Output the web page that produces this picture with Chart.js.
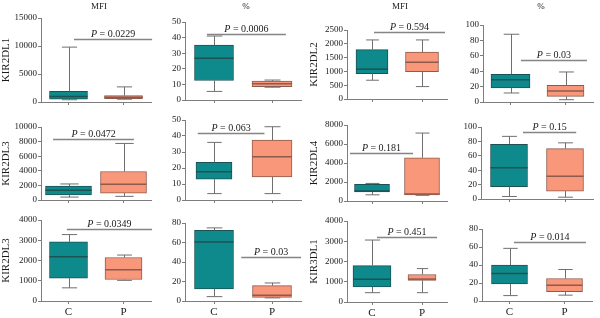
<!DOCTYPE html>
<html>
<head>
<meta charset="utf-8">
<script src="https://cdn.jsdelivr.net/npm/chart.js@4.4.1/dist/chart.umd.min.js"></script>
<style>
html, body { margin:0; padding:0; background:#fff; overflow:hidden; }
body { width:600px; height:318px; position:relative; }
canvas { position:absolute; }
</style>
</head>
<body>
<script>
// x categories
var groups = ['C', 'P'];

// panels go row by row, left to right
var yLabels = ['KIR2DL1', '', 'KIR2DL2', '', 'KIR2DL3', '', 'KIR2DL4', '', 'KIR2DL3', '', 'KIR3DL1', ''];
var colTitles = ['MFI', '%', 'MFI', '%'];
var yMax  = [15000, 50, 2500, 100, 10000, 50, 8000, 100, 4000, 80, 4000, 80];
var yStep = [5000, 10, 500, 20, 2000, 10, 2000, 20, 1000, 20, 1000, 20];

// box stats for group C
var cMin = [400, 5.5, 680, 11.7, 400, 4, 650, 3.5, 650, 4.5, 460, 6];
var cQ1  = [500, 12.5, 920, 18.3, 700, 13, 950, 17, 1130, 12.5, 740, 19];
var cMed = [1000, 26.8, 1080, 29, 1350, 17.7, 1050, 43.5, 2180, 60.5, 1120, 30.5];
var cQ3  = [1900, 35.2, 1790, 36, 1900, 23.5, 1750, 76, 2920, 72.5, 1800, 40];
var cMax = [9800, 41, 2140, 88, 2200, 36, 1850, 87, 3280, 75, 3060, 58.5];

// box stats for group P
var pMin = [500, 8.2, 450, 3, 500, 4, 600, 2.5, 1020, 3.2, 460, 6.5];
var pQ1  = [580, 8.6, 990, 7.4, 950, 14.5, 650, 11, 1060, 3.8, 1070, 10.5];
var pMed = [850, 10.4, 1330, 14.3, 2150, 27, 750, 31.5, 1540, 6, 1130, 17.5];
var pQ3  = [1150, 12.2, 1700, 21.7, 3900, 37.5, 4550, 70, 2150, 15.8, 1360, 25];
var pMax = [2700, 12.8, 2140, 39, 7750, 45.8, 7150, 78, 2270, 18.5, 1650, 35];

// significance bars: p value, height (y units), span (category units)
var pValues  = ['0.0229', '0.0006', '0.594', '0.03', '0.0472', '0.063', '0.181', '0.15', '0.0349', '0.03', '0.451', '0.014'];
var pLineY    = [11200, 42.5, 2420, 55, 8300, 42, 5050, 93, 3550, 45.5, 3220, 65.5];
var pLineFrom = [0.1, -0.12, 0.04, 0.19, -0.28, -0.28, -0.44, 0.25, -0.03, 0.47, 0.1, 0.08];
var pLineTo   = [1.52, 1.24, 1.46, 1.39, 1.19, 0.87, 0.82, 1.2, 1.52, 1.5, 1.3, 1.39];

// layout: plot area of each panel [left, top, right, bottom] in page px
var areas = [
  [41, 18, 151, 102], [185, 22, 301, 100], [347, 30, 447, 99], [483, 25, 593, 102],
  [41, 127, 151, 200], [185, 120, 301, 200], [347, 125, 447, 201], [481, 127, 593, 199],
  [41, 220, 151, 301], [185, 223, 301, 301], [347, 221, 447, 302], [482, 229, 592, 301]
];
var boxW = [[38, 38], [39, 40], [32, 33], [39, 37], [46, 46], [36, 40],
            [35, 35], [37, 37], [38, 37], [39, 39], [38, 28], [36, 36]];
var colX = [0, 150, 300, 450], colW = [160, 160, 160, 150];
var rowY = [0, 105, 205], rowH = [110, 105, 113];
var titlePad = [0, 0, 7.4, 0];

var teal = '#0f8a8c', tealLine = '#1d5254';
var salmon = '#f9977a', salmonLine = '#8e5a4c';
var axisColor = '#7d7d7d', textColor = '#1a1a1a';
var serif = "'Liberation Serif', 'Times New Roman', serif";

var boxExtras = {
  id: 'boxExtras',
  afterDatasetsDraw: function(chart) {
    var ctx = chart.ctx, ys = chart.scales.y;
    ctx.save();
    chart.data.datasets.forEach(function(ds, di) {
      var meta = chart.getDatasetMeta(di);
      meta.data.forEach(function(bar, i) {
        var s = ds.stats[i];
        if (!s) return;
        var p = bar.getProps(['x', 'width'], true);
        var cx = Math.round(p.x) + 0.5, cap = p.width * 0.4;
        ctx.strokeStyle = '#6f6f6f';
        ctx.lineWidth = 1;
        ctx.beginPath();
        ctx.moveTo(cx, ys.getPixelForValue(s.q3));
        ctx.lineTo(cx, ys.getPixelForValue(s.max));
        ctx.moveTo(cx - cap / 2, ys.getPixelForValue(s.max));
        ctx.lineTo(cx + cap / 2, ys.getPixelForValue(s.max));
        ctx.moveTo(cx, ys.getPixelForValue(s.q1));
        ctx.lineTo(cx, ys.getPixelForValue(s.min));
        ctx.moveTo(cx - cap / 2, ys.getPixelForValue(s.min));
        ctx.lineTo(cx + cap / 2, ys.getPixelForValue(s.min));
        ctx.stroke();
        ctx.strokeStyle = ds.borderColor;
        ctx.lineWidth = 1.5;
        ctx.beginPath();
        ctx.moveTo(p.x - p.width / 2, ys.getPixelForValue(s.med));
        ctx.lineTo(p.x + p.width / 2, ys.getPixelForValue(s.med));
        ctx.stroke();
      });
    });
    ctx.restore();
  },
  afterDraw: function(chart, args, opts) {
    var ctx = chart.ctx, xs = chart.scales.x, ys = chart.scales.y, a = chart.chartArea;
    ctx.save();
    // significance line
    var x1 = xs.getPixelForValue(opts.from), x2 = xs.getPixelForValue(opts.to);
    var ly = Math.round(ys.getPixelForValue(opts.y)) + 0.5;
    ctx.strokeStyle = '#858585';
    ctx.lineWidth = 1.3;
    ctx.beginPath();
    ctx.moveTo(x1, ly);
    ctx.lineTo(x2, ly);
    ctx.stroke();
    // "P = ..." with italic P
    var fontP = 'italic 10px ' + serif, fontR = '10px ' + serif;
    ctx.font = fontP;
    var wP = ctx.measureText('P').width;
    var rest = ' = ' + opts.p;
    ctx.font = fontR;
    var wR = ctx.measureText(rest).width;
    var sx = (x1 + x2) / 2 - (wP + wR) / 2;
    ctx.fillStyle = textColor;
    ctx.textBaseline = 'alphabetic';
    ctx.textAlign = 'left';
    ctx.font = fontP;
    ctx.fillText('P', sx, ly - 2.5);
    ctx.font = fontR;
    ctx.fillText(rest, sx + wP, ly - 2.5);
    // column title on the top row
    if (opts.title) {
      ctx.font = '9px ' + serif;
      ctx.textAlign = 'center';
      ctx.textBaseline = 'middle';
      ctx.fillText(opts.title, (a.left + a.right) / 2 + 3, 7);
    }
    ctx.restore();
  }
};

function makePanel(i) {
  var row = Math.floor(i / 4), col = i % 4;
  var cv = { x: colX[col], y: rowY[row], w: colW[col], h: rowH[row] };
  var a = areas[i];
  var canvas = document.createElement('canvas');
  canvas.width = cv.w;
  canvas.height = cv.h;
  canvas.style.left = cv.x + 'px';
  canvas.style.top = cv.y + 'px';
  document.body.appendChild(canvas);

  var gridOpts = { display: true, drawOnChartArea: false, drawTicks: true, tickLength: 3, color: axisColor, lineWidth: 1 };

  return new Chart(canvas, {
    type: 'bar',
    data: {
      labels: groups,
      datasets: [{
        data: [[cQ1[i], cQ3[i]], null],
        stats: [{ min: cMin[i], q1: cQ1[i], med: cMed[i], q3: cQ3[i], max: cMax[i] }, null],
        backgroundColor: teal,
        borderColor: tealLine,
        borderWidth: 1,
        borderSkipped: false,
        barThickness: boxW[i][0],
        grouped: false
      }, {
        data: [null, [pQ1[i], pQ3[i]]],
        stats: [null, { min: pMin[i], q1: pQ1[i], med: pMed[i], q3: pQ3[i], max: pMax[i] }],
        backgroundColor: salmon,
        borderColor: salmonLine,
        borderWidth: 1,
        borderSkipped: false,
        barThickness: boxW[i][1],
        grouped: false
      }]
    },
    options: {
      responsive: false,
      animation: false,
      layout: { padding: { left: 0, top: a[1] - cv.y, right: cv.x + cv.w - a[2], bottom: 0 } },
      plugins: {
        legend: { display: false },
        tooltip: { enabled: false },
        boxExtras: {
          p: pValues[i], y: pLineY[i], from: pLineFrom[i], to: pLineTo[i],
          title: row === 0 ? colTitles[col] : ''
        }
      },
      scales: {
        x: {
          offset: true,
          grid: Object.assign({}, gridOpts, { offset: false }),
          border: { color: axisColor, width: 1 },
          ticks: { display: row === 2, color: textColor, padding: 2, font: { family: serif, size: 11 } },
          afterFit: function(s) { s.height = cv.y + cv.h - a[3]; }
        },
        y: {
          min: 0,
          max: yMax[i],
          grid: gridOpts,
          border: { color: axisColor, width: 1 },
          ticks: {
            stepSize: yStep[i],
            color: textColor,
            padding: 1,
            font: { family: serif, size: 9 },
            callback: function(v) { return String(v); }
          },
          title: {
            display: yLabels[i] !== '',
            text: yLabels[i],
            color: textColor,
            padding: { top: titlePad[col], bottom: 0 },
            font: { family: serif, size: 11 }
          },
          afterFit: function(s) { s.width = a[0] - cv.x; }
        }
      }
    },
    plugins: [boxExtras]
  });
}

for (var i = 0; i < 12; i++) {
  makePanel(i);
}
</script>
</body>
</html>
